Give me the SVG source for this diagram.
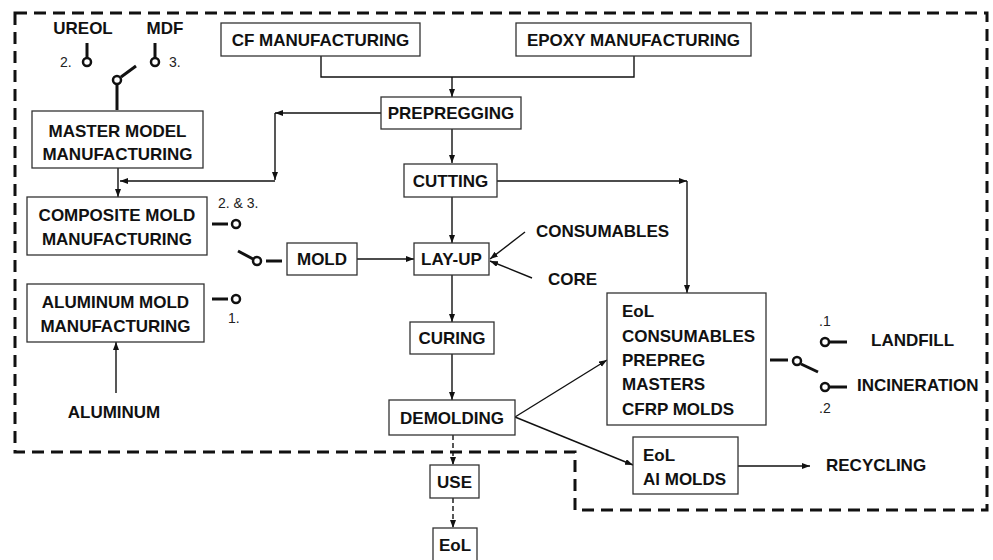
<svg xmlns="http://www.w3.org/2000/svg" width="993" height="560" viewBox="0 0 993 560">
<style>
.box{fill:#fff;stroke:#333;stroke-width:1.3}
.t{font-family:"Liberation Sans",Arial,sans-serif;font-weight:bold;font-size:17px;fill:#111}
.s{font-family:"Liberation Sans",Arial,sans-serif;font-size:14px;fill:#222}
.ln{fill:none;stroke:#111;stroke-width:1.4}
.dl{fill:none;stroke:#111;stroke-width:1.4;stroke-dasharray:5 3}
.sw{fill:none;stroke:#111;stroke-width:3}
.swc{fill:#fff;stroke:#111;stroke-width:2.5}
.border{fill:none;stroke:#111;stroke-width:3;stroke-dasharray:12 7}
</style>
<defs>
<marker id="ah" markerUnits="userSpaceOnUse" markerWidth="9" markerHeight="7" refX="8" refY="3" orient="auto">
<path d="M0,0 L8,3 L0,6 z" fill="#111"/>
</marker>
</defs>
<rect width="993" height="560" fill="#fff"/>
<path class="border" d="M15,13 H987 V510 H575 V452 H15 Z"/>

<g id="connectors">
<polyline class="ln" points="321,56 321,77 634,77 634,56"/>
<line class="ln" x1="452" y1="77" x2="452" y2="97" marker-end="url(#ah)"/>
<line class="ln" x1="381" y1="113" x2="275" y2="113" marker-end="url(#ah)"/>
<line class="ln" x1="275" y1="113" x2="275" y2="180" marker-end="url(#ah)"/>
<line class="ln" x1="275" y1="181" x2="120" y2="181" marker-end="url(#ah)"/>
<line class="ln" x1="118" y1="168" x2="118" y2="197" marker-end="url(#ah)"/>
<line class="ln" x1="452" y1="129" x2="452" y2="163" marker-end="url(#ah)"/>
<line class="ln" x1="497" y1="181" x2="687" y2="181" marker-end="url(#ah)"/>
<line class="ln" x1="687" y1="181" x2="687" y2="293" marker-end="url(#ah)"/>
<line class="ln" x1="452" y1="197" x2="452" y2="243" marker-end="url(#ah)"/>
<line class="ln" x1="357" y1="259" x2="414" y2="259" marker-end="url(#ah)"/>
<line class="ln" x1="525" y1="232" x2="490" y2="259" marker-end="url(#ah)"/>
<line class="ln" x1="532" y1="278" x2="490" y2="261" marker-end="url(#ah)"/>
<line class="ln" x1="452" y1="275" x2="452" y2="322" marker-end="url(#ah)"/>
<line class="ln" x1="452" y1="354" x2="452" y2="400" marker-end="url(#ah)"/>
<line class="ln" x1="515" y1="417" x2="607" y2="360" marker-end="url(#ah)"/>
<line class="ln" x1="515" y1="417" x2="633" y2="465" marker-end="url(#ah)"/>
<line class="ln" x1="738" y1="466" x2="810" y2="466" marker-end="url(#ah)"/>
<line class="ln" x1="116" y1="393" x2="116" y2="342" marker-end="url(#ah)"/>
<line class="dl" x1="453" y1="435" x2="453" y2="465" marker-end="url(#ah)"/>
<line class="dl" x1="453" y1="498" x2="453" y2="528" marker-end="url(#ah)"/>
</g>

<g id="switches">
<line class="sw" x1="87" y1="43" x2="87" y2="58"/>
<circle class="swc" cx="87" cy="62" r="4"/>
<line class="sw" x1="155" y1="43" x2="155" y2="58"/>
<circle class="swc" cx="155" cy="62" r="4"/>
<line class="sw" x1="121" y1="77" x2="136" y2="66"/>
<circle class="swc" cx="117" cy="80" r="4"/>
<line class="sw" x1="117" y1="85" x2="117" y2="110"/>
<text class="s" x="60" y="67">2.</text>
<text class="s" x="169" y="67">3.</text>

<line class="sw" x1="212" y1="224" x2="228" y2="224"/>
<circle class="swc" cx="236" cy="224" r="4"/>
<text class="s" x="218" y="208">2. &amp; 3.</text>
<line class="sw" x1="238" y1="251" x2="253" y2="259"/>
<circle class="swc" cx="257" cy="261" r="4"/>
<line class="sw" x1="266" y1="261" x2="282" y2="261"/>
<line class="sw" x1="212" y1="299" x2="228" y2="299"/>
<circle class="swc" cx="236" cy="299" r="4"/>
<text class="s" x="228" y="323">1.</text>

<line class="sw" x1="770" y1="360" x2="788" y2="360"/>
<circle class="swc" cx="797" cy="361" r="4"/>
<line class="sw" x1="801" y1="364" x2="818" y2="372"/>
<circle class="swc" cx="825" cy="342" r="4"/>
<line class="sw" x1="829" y1="342" x2="847" y2="342"/>
<circle class="swc" cx="825" cy="387" r="4"/>
<line class="sw" x1="829" y1="387" x2="847" y2="387"/>
<text class="s" x="819" y="326">.1</text>
<text class="s" x="819" y="413">.2</text>
</g>

<g id="ureol"><text class="t" x="83" y="34" text-anchor="middle">UREOL</text></g>
<g id="mdf"><text class="t" x="165" y="34" text-anchor="middle">MDF</text></g>

<g id="cf"><rect class="box" x="221" y="23" width="199" height="33"/><text class="t" x="320.5" y="46" text-anchor="middle">CF MANUFACTURING</text></g>
<g id="epoxy"><rect class="box" x="516" y="23" width="235" height="33"/><text class="t" x="633.5" y="46" text-anchor="middle">EPOXY MANUFACTURING</text></g>
<g id="prepregging"><rect class="box" x="381" y="97" width="140" height="32"/><text class="t" x="451" y="119" text-anchor="middle">PREPREGGING</text></g>
<g id="master"><rect class="box" x="32" y="111" width="171" height="57"/><text class="t" x="117.5" y="137" text-anchor="middle">MASTER MODEL</text><text class="t" x="117.5" y="160" text-anchor="middle">MANUFACTURING</text></g>
<g id="cutting"><rect class="box" x="404" y="164" width="93" height="33"/><text class="t" x="450.5" y="187" text-anchor="middle">CUTTING</text></g>
<g id="composite"><rect class="box" x="27" y="197" width="180" height="58"/><text class="t" x="117" y="221" text-anchor="middle">COMPOSITE MOLD</text><text class="t" x="117" y="245" text-anchor="middle">MANUFACTURING</text></g>
<g id="mold"><rect class="box" x="287" y="243" width="70" height="32"/><text class="t" x="322" y="265" text-anchor="middle">MOLD</text></g>
<g id="layup"><rect class="box" x="414" y="243" width="75" height="32"/><text class="t" x="451.5" y="265" text-anchor="middle">LAY-UP</text></g>
<g id="consumables"><text class="t" x="536" y="237">CONSUMABLES</text></g>
<g id="core"><text class="t" x="548" y="285">CORE</text></g>
<g id="aluminum-mold"><rect class="box" x="27" y="284" width="177" height="58"/><text class="t" x="115.5" y="308" text-anchor="middle">ALUMINUM MOLD</text><text class="t" x="115.5" y="332" text-anchor="middle">MANUFACTURING</text></g>
<g id="aluminum"><text class="t" x="114" y="418" text-anchor="middle">ALUMINUM</text></g>
<g id="curing"><rect class="box" x="410" y="322" width="84" height="32"/><text class="t" x="452" y="344" text-anchor="middle">CURING</text></g>
<g id="demolding"><rect class="box" x="389" y="400" width="126" height="35"/><text class="t" x="452" y="424" text-anchor="middle">DEMOLDING</text></g>
<g id="eol-main"><rect class="box" x="607" y="293" width="159" height="132"/>
<text class="t" x="622" y="317">EoL</text>
<text class="t" x="622" y="342">CONSUMABLES</text>
<text class="t" x="622" y="366">PREPREG</text>
<text class="t" x="622" y="390">MASTERS</text>
<text class="t" x="622" y="415">CFRP MOLDS</text></g>
<g id="landfill"><text class="t" x="871" y="346">LANDFILL</text></g>
<g id="incineration"><text class="t" x="857" y="391">INCINERATION</text></g>
<g id="eol-al"><rect class="box" x="633" y="437" width="105" height="57"/><text class="t" x="643" y="461">EoL</text><text class="t" x="643" y="485">Al MOLDS</text></g>
<g id="recycling"><text class="t" x="826" y="471">RECYCLING</text></g>
<g id="use"><rect class="box" x="430" y="465" width="49" height="33"/><text class="t" x="454.5" y="488" text-anchor="middle">USE</text></g>
<g id="eol-final"><rect class="box" x="433" y="528" width="44" height="40"/><text class="t" x="455" y="551" text-anchor="middle">EoL</text></g>
</svg>
